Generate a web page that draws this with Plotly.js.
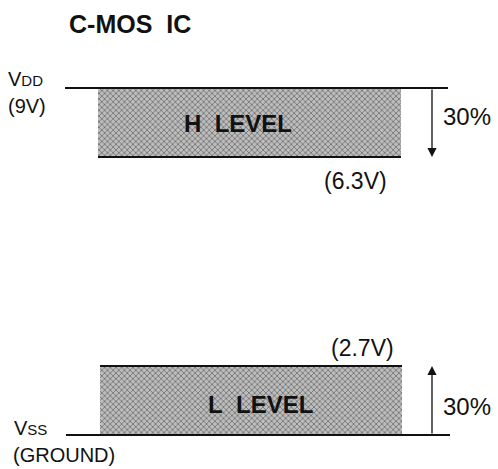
<!DOCTYPE html>
<html><head><meta charset="utf-8">
<script src="https://cdn.plot.ly/plotly-3.0.1.min.js"></script>
<style>html,body{margin:0;padding:0;background:#fff}#c{width:498px;height:469px}</style>
</head><body><div id="c"></div>
<script>
// ---- data ----
const levelNames = ['H  LEVEL', 'L  LEVEL'];
const levelLow = [6.3, 0];
const levelHigh = [9, 2.7];
const thresholdLabels = ['(6.3V)', '(2.7V)'];
const supplyNames = ['V<span style="font-size:15px">DD</span>', 'V<span style="font-size:15px">SS</span>'];
const supplySub = ['(9V)', '(GROUND)'];
const supplyVolts = [9, 0];
const marginPct = ['30%', '30%'];
const chartTitle = 'C-MOS  IC';

// ---- layout constants (pixels on a 0..498 x scale) ----
const FONT = 'Liberation Sans, Arial, sans-serif';
const ink = '#111';
const pxPerV = 69 / 2.7;
const halfH = 234.5 / pxPerV;
const topRange = [9 + 88 / pxPerV - halfH, 9 + 88 / pxPerV];
const botRange = [0 - 34 / pxPerV, 0 - 34 / pxPerV + halfH];

const boxX = [[98, 401], [100, 402]];
const axes = ['y', 'y2'];
const pattern = {shape: 'x', fgcolor: '#6a6a6a', bgcolor: '#bdbdbd', size: 4, solidity: 0.35};

const traces = levelNames.map((n, i) => ({
  type: 'bar', xaxis: 'x', yaxis: axes[i],
  x: [(boxX[i][0] + boxX[i][1]) / 2],
  y: [levelHigh[i] - levelLow[i]],
  base: [levelLow[i]],
  width: [boxX[i][1] - boxX[i][0]],
  marker: {color: '#bdbdbd', pattern: pattern, line: {width: 0}},
  hoverinfo: 'skip', showlegend: false
}));

const shapes = [
  {type: 'line', xref: 'x', yref: 'y', x0: 65, x1: 448, y0: supplyVolts[0], y1: supplyVolts[0], line: {color: ink, width: 2}},
  {type: 'line', xref: 'x', yref: 'y', x0: boxX[0][0], x1: boxX[0][1], y0: levelLow[0], y1: levelLow[0], line: {color: ink, width: 2}},
  {type: 'line', xref: 'x', yref: 'y2', x0: boxX[1][0], x1: boxX[1][1], y0: levelHigh[1], y1: levelHigh[1], line: {color: ink, width: 2}},
  {type: 'line', xref: 'x', yref: 'y2', x0: 66, x1: 450, y0: supplyVolts[1], y1: supplyVolts[1], line: {color: ink, width: 2}}
];

const tf = (s) => ({family: FONT, size: s, color: ink});
const sp = (t) => t.replace(/  /g, '&nbsp;&nbsp;');
const annotations = [
  {xref: 'paper', yref: 'paper', x: 67 / 498, y: 1 - 24 / 469, xanchor: 'left', yanchor: 'middle', text: '<b>' + sp(chartTitle) + '</b>', showarrow: false, font: tf(25)},
  // arrows
  {xref: 'x', yref: 'y', axref: 'x', ayref: 'y', x: 432, y: levelLow[0], ax: 432, ay: levelHigh[0], showarrow: true, arrowhead: 2, arrowsize: 1.4, arrowwidth: 1.3, arrowcolor: ink, text: ''},
  {xref: 'x', yref: 'y2', axref: 'x', ayref: 'y2', x: 432, y: levelHigh[1], ax: 432, ay: levelLow[1], showarrow: true, arrowhead: 2, arrowsize: 1.4, arrowwidth: 1.3, arrowcolor: ink, text: ''},
  // percents
  {xref: 'x', yref: 'y', x: 441, y: (levelHigh[0] + levelLow[0]) / 2, xanchor: 'left', yanchor: 'middle', yshift: 6, text: marginPct[0], showarrow: false, font: tf(24)},
  {xref: 'x', yref: 'y2', x: 441, y: (levelHigh[1] + levelLow[1]) / 2, xanchor: 'left', yanchor: 'middle', yshift: -6, text: marginPct[1], showarrow: false, font: tf(24)},
  // level names
  {xref: 'x', yref: 'y', x: 238, y: (levelHigh[0] + levelLow[0]) / 2, yanchor: 'middle', yshift: -1, text: '<b>' + sp(levelNames[0]) + '</b>', showarrow: false, font: tf(24)},
  {xref: 'x', yref: 'y2', x: 260, y: (levelHigh[1] + levelLow[1]) / 2, yanchor: 'middle', yshift: -4, text: '<b>' + sp(levelNames[1]) + '</b>', showarrow: false, font: tf(24)},
  // thresholds
  {xref: 'x', yref: 'y', x: 355, y: levelLow[0], yanchor: 'middle', yshift: -24, text: thresholdLabels[0], showarrow: false, font: tf(23)},
  {xref: 'x', yref: 'y2', x: 362, y: levelHigh[1], yanchor: 'middle', yshift: 18, text: thresholdLabels[1], showarrow: false, font: tf(23)},
  // supplies
  {xref: 'paper', yref: 'y', x: 6 / 498, y: supplyVolts[0], xanchor: 'left', yanchor: 'middle', yshift: 9, text: supplyNames[0], showarrow: false, font: tf(20)},
  {xref: 'paper', yref: 'y', x: 6 / 498, y: supplyVolts[0], xanchor: 'left', yanchor: 'middle', yshift: -18, text: supplySub[0], showarrow: false, font: tf(20)},
  {xref: 'paper', yref: 'y2', x: 12 / 498, y: supplyVolts[1], xanchor: 'left', yanchor: 'middle', yshift: 7, text: supplyNames[1], showarrow: false, font: tf(20)},
  {xref: 'paper', yref: 'y2', x: 11 / 498, y: supplyVolts[1], xanchor: 'left', yanchor: 'middle', yshift: -20, text: supplySub[1], showarrow: false, font: tf(20)}
];

const hidden = {visible: false, showgrid: false, zeroline: false, fixedrange: true};
const layout = {
  width: 498, height: 469,
  margin: {l: 0, r: 0, t: 0, b: 0},
  paper_bgcolor: '#fff', plot_bgcolor: '#fff',
  showlegend: false,
  xaxis: Object.assign({range: [0, 498], domain: [0, 1]}, hidden),
  yaxis: Object.assign({range: topRange, domain: [0.5, 1]}, hidden),
  yaxis2: Object.assign({range: botRange, domain: [0, 0.5], anchor: 'x'}, hidden),
  shapes: shapes,
  annotations: annotations,
  bargap: 0
};
Plotly.newPlot('c', traces, layout, {displayModeBar: false, staticPlot: true});
</script></body></html>
